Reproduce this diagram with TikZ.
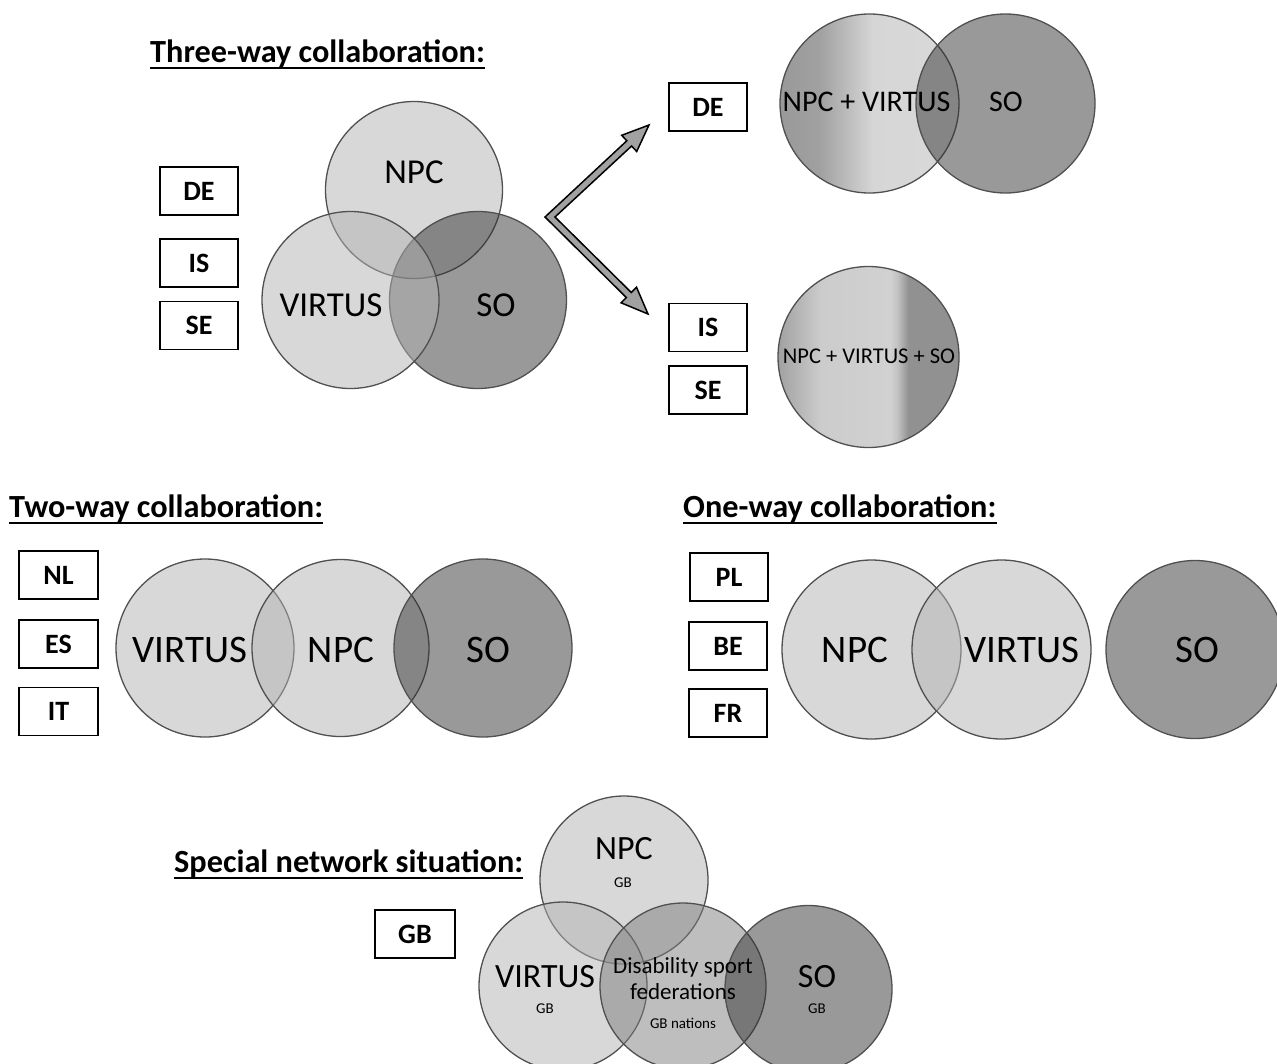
\documentclass[tikz,border=0pt]{standalone}
\usepackage{fontspec}
\setmainfont{Carlito}
\usetikzlibrary{calc}
\definecolor{circline}{RGB}{80,80,80}
\colorlet{lightfill}{black!30}
\colorlet{sofill}{black!80}
\colorlet{disfill}{black!51}
\pgfdeclarehorizontalshading{gradA}{100bp}{color(0bp)=(black!40); color(25bp)=(black!40); color(36bp)=(black!37); color(44bp)=(black!26); color(51bp)=(black!16); color(75bp)=(black!15); color(100bp)=(black!15)}
\pgfdeclarehorizontalshading{gradB}{100bp}{color(0bp)=(black!37); color(25bp)=(black!37); color(37bp)=(black!20); color(56bp)=(black!18); color(58bp)=(black!24); color(61bp)=(black!43); color(75bp)=(black!43); color(100bp)=(black!43)}
\tikzset{
  vc/.style={circle, draw=circline, line width=1.3pt, fill opacity=0.5, inner sep=0pt, minimum size=178pt},
  lt/.style={vc, fill=lightfill},
  dk/.style={vc, fill=sofill},
  md/.style={vc, fill=disfill},
  cbox/.style={draw=black, line width=1.6pt, fill=white, minimum width=78pt, minimum height=48pt, inner sep=0pt, font=\bfseries\fontsize{28}{32}\selectfont},
  ttl/.style={anchor=base west, inner sep=0pt, font=\bfseries\fontsize{32.3}{37}\selectfont},
  lab/.style={inner sep=0pt, anchor=center},
  ulin/.style={line width=2.5pt}
}
\begin{document}
\begin{tikzpicture}[x=1pt, y=-1pt]
\useasboundingbox (0,0) rectangle (1277,1063);

% ---------- Three-way ----------
\node[ttl] (t3) at (150,62) {Three-way collaboration:};
\draw[ulin] ([yshift=-6pt]t3.base west) -- ([yshift=-6pt]t3.base east);

\node[lt, minimum size=177pt] (c3n) at (414,190) {};
\node[dk, minimum size=177pt] (c3s) at (478,300) {};
\node[lt, minimum size=177pt] (c3v) at (350.5,300) {};
\node[lab, font=\fontsize{35}{40}\selectfont] (l3n) at (414,172) {NPC};
\node[lab, font=\fontsize{35}{40}\selectfont] (l3v) at (331,305) {VIRTUS};
\node[lab, font=\fontsize{35}{40}\selectfont] (l3s) at (496,305) {SO};

\node[cbox] (b3de) at (199,191) {DE};
\node[cbox] (b3is) at (199,263) {IS};
\node[cbox] (b3se) at (199,325.5) {SE};

% fork arrow
\coordinate (fork) at (550,217);
\coordinate (tipde) at (649,125);
\coordinate (tipis) at (648,314);
\draw[line width=1.5pt, fill=black!37, line join=miter]
  (545,217) -- (626.8,140.8) -- (621.7,135.3) -- (tipde) -- (636.7,151.5) -- (631.6,146.0)
  -- (555,217) -- (631.3,292.5) -- (636.5,287.2) -- (tipis) -- (621.1,302.8) -- (626.3,297.5) -- cycle;

% ---------- Top right: DE ----------
\node[cbox] (bde) at (708,107) {DE};
\node[circle, draw=circline, line width=1.3pt, inner sep=0pt, minimum size=179pt, shading=gradA] (cnv) at (869.5,103.5) {};
\node[dk, minimum size=179pt] (cdes) at (1005.5,103.5) {};
\node[lab, font=\fontsize{30}{34}\selectfont] (lnv) at (866.5,102) {NPC + VIRTUS};
\node[lab, font=\fontsize{30}{34}\selectfont] (ldes) at (1006,102) {SO};

% ---------- IS / SE ----------
\node[cbox] (bis) at (708,327.5) {IS};
\node[cbox] (bse) at (708,390) {SE};
\node[circle, draw=circline, line width=1.3pt, inner sep=0pt, minimum size=181pt, shading=gradB] (call) at (868.5,357) {};
\node[lab, font=\fontsize{22.5}{26}\selectfont] (lall) at (869,356) {NPC + VIRTUS + SO};

% ---------- Two-way ----------
\node[ttl] (t2) at (9,517) {Two-way collaboration:};
\draw[ulin] ([yshift=-6pt]t2.base west) -- ([yshift=-6pt]t2.base east);
\node[cbox, minimum width=79pt] (bnl) at (58.5,575) {NL};
\node[cbox, minimum width=79pt] (bes) at (58.5,644) {ES};
\node[cbox, minimum width=79pt] (bit) at (58.5,711.5) {IT};

\node[lt] (c2v) at (205,648) {};
\node[lt, minimum size=177pt] (c2n) at (340.5,648) {};
\node[dk] (c2s) at (483,648) {};
\node[lab, font=\fontsize{39}{44}\selectfont] (l2v) at (190,649.5) {VIRTUS};
\node[lab, font=\fontsize{39}{44}\selectfont] (l2n) at (341,649.5) {NPC};
\node[lab, font=\fontsize{39}{44}\selectfont] (l2s) at (488,649.5) {SO};

% ---------- One-way ----------
\node[ttl] (t1) at (683,517) {One-way collaboration:};
\draw[ulin] ([yshift=-6pt]t1.base west) -- ([yshift=-6pt]t1.base east);
\node[cbox] (bpl) at (729,577) {PL};
\node[cbox] (bbe) at (728,646) {BE};
\node[cbox] (bfr) at (728,713) {FR};

\node[lt, minimum size=179pt] (c1n) at (871.5,649.5) {};
\node[lt, minimum size=179pt] (c1v) at (1001.5,649.5) {};
\node[dk] (c1s) at (1195,649.5) {};
\node[lab, font=\fontsize{39}{44}\selectfont] (l1n) at (855,649.5) {NPC};
\node[lab, font=\fontsize{39}{44}\selectfont] (l1v) at (1022,649.5) {VIRTUS};
\node[lab, font=\fontsize{39}{44}\selectfont] (l1s) at (1197,649.5) {SO};

% ---------- Special ----------
\node[ttl] (ts) at (174,872) {Special network situation:};
\draw[ulin] ([yshift=-6pt]ts.base west) -- ([yshift=-6pt]ts.base east);
\node[cbox, minimum width=80pt] (bgb) at (415,934) {GB};

\node[lt, minimum size=168pt] (csn) at (624,880) {};
\node[lt, minimum size=168pt] (csv) at (563,986) {};
\node[md, minimum size=166pt] (csd) at (683,986) {};
\node[dk, minimum size=167pt] (css) at (808.5,989) {};

\node[lab, font=\fontsize{34}{40}\selectfont] (lsn) at (624,849) {NPC};
\node[lab, font=\fontsize{15}{17}\selectfont] (lsng) at (623,883) {GB};
\node[lab, font=\fontsize{34}{40}\selectfont] (lsv) at (545,977) {VIRTUS};
\node[lab, font=\fontsize{15}{17}\selectfont] (lsvg) at (545,1009) {GB};
\node[inner sep=0pt, anchor=base, font=\fontsize{23}{27}\selectfont] (lsd1) at (683,973) {Disability sport};
\node[inner sep=0pt, anchor=base, font=\fontsize{23}{27}\selectfont] (lsd2) at (683,999) {federations};
\node[lab, font=\fontsize{15}{17}\selectfont] (lsdg) at (683,1023) {GB nations};
\node[lab, font=\fontsize{34}{40}\selectfont] (lss) at (817,977) {SO};
\node[lab, font=\fontsize{15}{17}\selectfont] (lssg) at (817,1009) {GB};
\end{tikzpicture}
\end{document}
